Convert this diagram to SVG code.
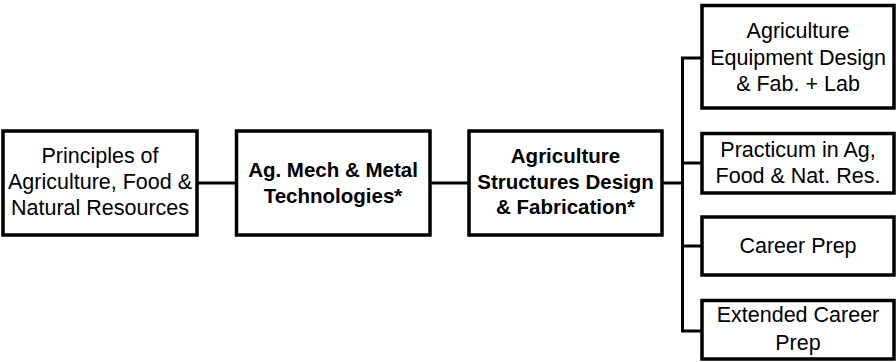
<svg xmlns="http://www.w3.org/2000/svg" width="896" height="362" viewBox="0 0 896 362">
<style>
.box{fill:#fff;stroke:#000;stroke-width:3.5}
.conn{fill:none;stroke:#000;stroke-width:3}
text{font-family:"Liberation Sans",Arial,sans-serif;font-size:21.5px;fill:#000;text-anchor:middle}
.b{font-weight:bold;font-size:20.5px}
</style>
<rect width="896" height="362" fill="#fff"/>
<g id="connectors">
<line class="conn" x1="197" y1="183" x2="236" y2="183"/>
<line class="conn" x1="430" y1="183" x2="469" y2="183"/>
<line class="conn" x1="662" y1="183" x2="682.5" y2="183"/>
<polyline class="conn" points="702,58 682.5,58 682.5,331 702,331"/>
<line class="conn" x1="682.5" y1="163" x2="702" y2="163"/>
<line class="conn" x1="682.5" y1="246" x2="702" y2="246"/>
</g>
<g id="principles">
<rect class="box" x="3" y="131" width="194" height="104"/>
<text x="100" y="163">Principles of</text>
<text x="100" y="189">Agriculture, Food &amp;</text>
<text x="100" y="215">Natural Resources</text>
</g>
<g id="agmech">
<rect class="box" x="236.5" y="131" width="193.5" height="104"/>
<text class="b" x="333" y="177">Ag. Mech &amp; Metal</text>
<text class="b" x="333" y="203">Technologies*</text>
</g>
<g id="structures">
<rect class="box" x="469" y="131" width="193" height="104"/>
<text class="b" x="565.5" y="163">Agriculture</text>
<text class="b" x="565.5" y="189">Structures Design</text>
<text class="b" x="565.5" y="214">&amp; Fabrication*</text>
</g>
<g id="equipment">
<rect class="box" x="702" y="5.5" width="192" height="102.5"/>
<text x="798" y="38">Agriculture</text>
<text x="798" y="65">Equipment Design</text>
<text x="798" y="91">&amp; Fab. + Lab</text>
</g>
<g id="practicum">
<rect class="box" x="702" y="133.5" width="192" height="59.5"/>
<text x="798" y="157">Practicum in Ag,</text>
<text x="798" y="183">Food &amp; Nat. Res.</text>
</g>
<g id="careerprep">
<rect class="box" x="702" y="217" width="192" height="58"/>
<text x="798" y="253">Career Prep</text>
</g>
<g id="extended">
<rect class="box" x="702" y="300.5" width="192" height="58.5"/>
<text x="798" y="322">Extended Career</text>
<text x="798" y="350">Prep</text>
</g>
</svg>
